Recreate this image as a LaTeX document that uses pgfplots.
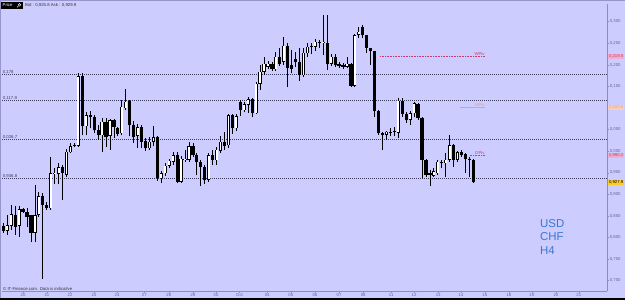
\documentclass[border=0pt]{standalone}
\usepackage{pgfplots}
\pgfplotsset{compat=1.18}
\usepackage{pgfplotstable}
\usepackage{fontspec}
\setmainfont{Liberation Sans}
\definecolor{bgc}{RGB}{204,204,254}
\definecolor{framec}{RGB}{150,150,205}
\definecolor{axc}{RGB}{140,140,195}
\definecolor{tickc}{RGB}{100,100,150}
\definecolor{dotc}{RGB}{60,60,95}
\definecolor{pivred}{RGB}{205,60,110}
\definecolor{pivpink}{RGB}{238,175,210}
\definecolor{pivorange}{RGB}{240,160,110}
\definecolor{orangebox}{RGB}{250,205,185}
\definecolor{yellowbox}{RGB}{250,205,40}
\definecolor{usdc}{RGB}{60,120,205}
\newcommand\tinyf{\fontsize{4.3}{5}\selectfont}

\pgfplotstableread{
i O H L C
1 9827 9833 9810 9816
2 9816 9852 9806 9829
3 9827 9875 9817 9854
4 9852 9872 9806 9825
5 9827 9872 9802 9865
6 9865 9869 9857 9860
7 9860 9868 9825 9848
8 9851 9852 9790 9811
9 9811 9922 9790 9852
10 9852 9906 9848 9895
11 9895 9902 9705 9875
12 9875 9883 9864 9868
13 9868 9987 9864 9949
14 9947 9960 9925 9950
15 9947 9972 9925 9963
16 9963 9968 9887 9949
17 9945 10006 9941 9999
18 9997 10018 9995 10012
19 10014 10020 10009 10012
20 10012 10180 10010 10174
21 10174 10182 10037 10058
22 10058 10091 10037 10084
23 10084 10094 10053 10078
24 10078 10084 10041 10049
25 10049 10061 10026 10037
26 10037 10076 9999 10068
27 10068 10076 10009 10032
28 10035 10074 10003 10072
29 10072 10074 10030 10057
30 10053 10057 10035 10040
31 10041 10118 10037 10103
32 10099 10143 10095 10115
33 10117 10119 10034 10061
34 10061 10070 10020 10032
35 10035 10064 10007 10055
36 10055 10060 10007 10022
37 10023 10030 10001 10007
38 10007 10033 10003 10022
39 10022 10058 10012 10032
40 10032 10034 9932 9937
41 9937 9955 9926 9949
42 9949 9972 9943 9966
43 9966 9983 9960 9978
44 9975 9999 9968 9991
45 9991 9999 9926 9929
46 9929 9988 9926 9983
47 9979 10003 9976 9983
48 9980 10022 9976 10012
49 10012 10018 9987 9991
50 9991 9995 9945 9976
51 9976 9979 9920 9964
52 9964 9968 9925 9933
53 9933 9995 9929 9991
54 9991 10003 9968 9979
55 9979 10010 9968 10003
56 10001 10034 9995 10022
57 10022 10045 10003 10012
58 10014 10087 10007 10084
59 10084 10087 10040 10053
60 10053 10085 10046 10081
61 10115 10119 10081 10095
62 10095 10115 10090 10109
63 10107 10125 10088 10120
64 10120 10124 10078 10088
65 10088 10160 10085 10156
66 10156 10200 10142 10184
67 10184 10219 10176 10203
68 10196 10210 10190 10203
69 10202 10207 10186 10190
70 10190 10230 10186 10219
71 10219 10238 10198 10203
72 10207 10265 10200 10244
73 10244 10250 10149 10192
74 10200 10234 10180 10190
75 10213 10230 10195 10207
76 10207 10238 10163 10176
77 10176 10240 10172 10228
78 10227 10250 10219 10242
79 10242 10250 10225 10241
80 10242 10260 10232 10254
81 10254 10258 10240 10250
82 10250 10315 10223 10254
83 10250 10315 10188 10203
84 10203 10225 10198 10219
85 10219 10224 10195 10200
86 10202 10207 10192 10197
87 10200 10205 10190 10196
88 10196 10219 10192 10203
89 10203 10205 10149 10151
90 10151 10272 10149 10269
91 10269 10288 10262 10277
92 10288 10292 10262 10269
93 10269 10270 10227 10240
94 10238 10240 10200 10231
95 10231 10233 10080 10092
96 10092 10095 10038 10041
97 10041 10044 10003 10038
98 10038 10047 10026 10045
99 10044 10053 10034 10045
100 10045 10055 10034 10046
101 10043 10123 10030 10117
102 10117 10123 10080 10086
103 10086 10090 10065 10072
104 10072 10092 10061 10088
105 10088 10115 10080 10111
106 10109 10111 10072 10076
107 10076 10078 9937 9980
108 9980 9982 9941 9945
109 9950 9957 9919 9945
110 9943 9960 9941 9953
111 9949 9980 9945 9976
112 9976 9980 9960 9972
113 9972 9995 9941 9980
114 9980 10038 9976 10014
115 10014 10017 9964 9980
116 9980 10000 9976 9997
117 9997 10003 9987 9991
118 9993 9995 9949 9981
119 9981 9987 9941 9980
120 9980 9982 9926 9928
}\candles

\begin{document}
\begin{tikzpicture}
\fill[bgc] (0,0) rectangle (625bp,300bp);
\useasboundingbox (0,0) rectangle (625bp,300bp);
% frame
\fill[framec] (0,298.5bp) rectangle (625bp,300bp);
\fill[framec] (0,0) rectangle (1.3bp,300bp);
\fill[black] (0,0) rectangle (625bp,2.2bp);
\begin{axis}[
  at={(2bp,9bp)}, anchor=south west,
  scale only axis, width=605bp, height=287bp,
  xmin=0.671, xmax=153.83, ymin=9676.1, ymax=10340.9,
  axis x line*=bottom, axis y line*=right,
  axis line style={axc, line width=0.6bp},
  tick style={axc, line width=0.4bp},
  major tick length=1.8bp, tick align=outside,
  clip mode=individual,
  ytick={9700,9750,9800,9850,9900,9950,10000,10050,10150,10200,10250,10300},
  yticklabels={{0,700},{0,750},{0,800},{0,850},{0,900},{0,950},{0,000},{0,050},{0,150},{0,200},{0,250},{0,300}},
  yticklabel style={font=\tinyf, text=tickc, inner sep=0.8bp},
  xtick={5.99,12.06,17.9,23.96,29.8,36.7,42.9,49.0,54.8,60.8,67.8,73.8,79.9,86.0,92.1,99.2,105.0,111.1,116.9,122.9,129.0,134.8,140.9,146.7},
  xticklabels={20,21,22,23,24,27,28,29,30,Oct,04,05,06,07,08,11,12,13,14,15,18,19,20,21},
  xticklabel style={font=\tinyf, text=tickc, inner sep=0.8bp},
]
% reference dotted lines
\addplot[dotc, line width=0.5bp, dash pattern=on 0.7bp off 1.3bp, forget plot] coordinates {(0.671,10178) (153.83,10178)};
\addplot[dotc, line width=0.5bp, dash pattern=on 0.7bp off 1.3bp, forget plot] coordinates {(0.671,10117.9) (153.83,10117.9)};
\addplot[dotc, line width=0.5bp, dash pattern=on 0.7bp off 1.3bp, forget plot] coordinates {(0.671,10026.7) (153.83,10026.7)};
\addplot[dotc, line width=0.5bp, dash pattern=on 0.7bp off 1.3bp, forget plot] coordinates {(0.671,9936.8) (153.83,9936.8)};
% pivots
\addplot[pivred, line width=0.5bp, dash pattern=on 0.8bp off 0.8bp, forget plot] coordinates {(96.4,10219.5) (123,10219.5)};
\addplot[pivorange, line width=0.8bp, forget plot] coordinates {(116.6,10100.8) (123,10100.8)};
\addplot[pivred, line width=0.5bp, dash pattern=on 0.8bp off 0.8bp, forget plot] coordinates {(119.1,9990.2) (123,9990.2)};
% wicks
\addplot[draw=none, forget plot, error bars/.cd, y dir=plus, y explicit, error mark=none,
  error bar style={draw=black, line width=0.75bp}]
  table[x=i, y=L, y error expr={\thisrow{H}-\thisrow{L}}] {\candles};
% bodies (outline / dark)
\addplot[draw=none, forget plot, error bars/.cd, y dir=plus, y explicit, error mark=none,
  error bar style={draw=black, line width=3.2bp}]
  table[x=i, y expr={min(\thisrow{O},\thisrow{C})}, y error expr={max(abs(\thisrow{C}-\thisrow{O}),1.5)}] {\candles};
% white interior of up candles
\addplot[draw=none, forget plot, error bars/.cd, y dir=plus, y explicit, error mark=none,
  error bar style={draw=white, line width=1.8bp}]
  table[x=i, y expr={\thisrow{O}+1.4}, y error expr={max(\thisrow{C}-\thisrow{O}-2.8,0)}] {\candles};
% texts
\node[anchor=south west, font=\tinyf, text=dotc, inner sep=0.4bp] at (axis cs:0.75,10178) {0,178};
\node[anchor=south west, font=\tinyf, text=dotc, inner sep=0.4bp] at (axis cs:0.75,10117.9) {0,117.9};
\node[anchor=south west, font=\tinyf, text=dotc, inner sep=0.4bp] at (axis cs:0.75,10026.7) {0,026.7};
\node[anchor=south west, font=\tinyf, text=dotc, inner sep=0.4bp] at (axis cs:0.75,9936.8) {0,936.8};
\node[anchor=south east, font=\tinyf, text=pivred, inner sep=0.5bp] at (axis cs:123,10219.5) {WPiv};
\node[anchor=south east, font=\tinyf, text=pivorange, inner sep=0.5bp] at (axis cs:123,10100.8) {MPiv};
\node[anchor=south east, font=\tinyf, text=pivred, inner sep=0.5bp] at (axis cs:123,9990.2) {DPiv};
\node[anchor=west, font=\tinyf, text=pivred, fill=pivpink, inner sep=0.6bp, xshift=1.2bp] at (axis cs:153.83,10219.5) {0,219.5};
\node[anchor=west, font=\tinyf, text=pivorange, fill=orangebox, inner sep=0.6bp, xshift=1.2bp] at (axis cs:153.83,10100.8) {0,100.8};
\node[anchor=west, font=\tinyf, text=pivred, fill=pivpink, inner sep=0.6bp, xshift=1.2bp] at (axis cs:153.83,9990.2) {0,990.2};
\node[anchor=west, font=\tinyf, text=black, fill=yellowbox, inner sep=0.6bp, xshift=1.2bp] at (axis cs:153.83,9927.9) {0,927.9};
\end{axis}
% top-left info
\fill[black] (1.3bp,291bp) rectangle (23bp,298.3bp);
\node[anchor=west, font=\tinyf, text=white, inner sep=0] at (2.5bp,294.6bp) {Price};
\draw[white, line width=0.4bp] (19.5bp,295.2bp) circle (1.3bp);
\draw[white, line width=0.5bp] (18.5bp,294.2bp) -- (17bp,292.6bp);
\node[anchor=west, font=\tinyf, text=black!80, inner sep=0] at (25bp,294.6bp) {Bid : 0,925.8 Ask : 0,929.9};
% footer
\node[anchor=west, font=\tinyf, text=black!80, inner sep=0] at (3bp,11bp) {© IT-Finance.com. \textit{Data is indicative}};
% symbol label
\node[anchor=north west, align=left, font=\fontsize{11.5}{13.5}\selectfont, text=usdc, inner sep=0] at (540bp,81bp) {USD\\CHF\\H4};
\end{tikzpicture}
\end{document}
